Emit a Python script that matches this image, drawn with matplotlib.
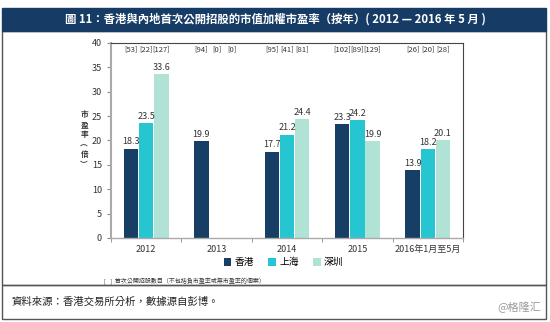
import matplotlib
matplotlib.use('Agg')
import matplotlib.pyplot as plt
from matplotlib.patches import Rectangle
import numpy as np

plt.rcParams['font.family'] = ['Noto Sans CJK TC', 'DejaVu Sans']

# data
categories = ['2012', '2013', '2014', '2015', '2016年1月至5月']
series_names = ['香港', '上海', '深圳']
hk = [18.3, 19.9, 17.7, 23.3, 13.9]
sh = [23.5, None, 21.2, 24.2, 18.2]
sz = [33.6, None, 24.4, 19.9, 20.1]
ipo_counts = [[53, 22, 127], [94, 0, 0], [95, 41, 81], [102, 89, 129], [26, 20, 28]]
colors = ['#173f66', '#25c5d2', '#b0e3d5']
ylabel_chars = ['市', '盈', '率', '︵', '倍', '︶']

fig = plt.figure(figsize=(5.5, 3.22), dpi=100)

# outer frames
fig.patches.append(Rectangle((0.004, 0.115), 0.988, 0.79, transform=fig.transFigure,
                             fill=False, edgecolor='#555555', lw=1.0))
fig.patches.append(Rectangle((0.004, 0.01), 0.988, 0.105, transform=fig.transFigure,
                             fill=False, edgecolor='#555555', lw=1.0))
# title banner
fig.patches.append(Rectangle((0.004, 0.905), 0.988, 0.07, transform=fig.transFigure,
                             facecolor='#163c66', edgecolor='#163c66'))
fig.text(0.5, 0.94, '圖 11：香港與內地首次公開招股的市值加權市盈率（按年）( 2012 — 2016 年 5 月 )',
         color='white', fontsize=8.2, fontweight='bold', ha='center', va='center')

ax = fig.add_axes([0.2018, 0.2609, 0.64, 0.6056])
x = np.arange(len(categories))
w = 0.215
offsets = [-w, 0, w]
for i, vals in enumerate([hk, sh, sz]):
    for j, v in enumerate(vals):
        if v is None:
            continue
        xpos = x[j] + offsets[i]
        ax.bar(xpos, v, width=w * 0.95, color=colors[i], label=series_names[i] if j == 0 else None)
        ax.text(xpos, v + 0.5, f'{v:.1f}', ha='center', va='bottom', fontsize=6.5, color='#333333')
    for j in range(len(categories)):
        ax.text(x[j] + offsets[i], 38.6, f'[{ipo_counts[j][i]}]', ha='center', va='center',
                fontsize=5.5, color='#333333')

ax.set_ylim(0, 40)
ax.set_xlim(-0.5, len(categories) - 0.5)
ax.set_yticks(range(0, 41, 5))
ax.set_xticks(np.arange(len(categories) + 1) - 0.5, minor=True)
ax.set_xticks(x)
ax.set_xticklabels(categories)
ax.tick_params(axis='x', which='major', length=0, labelsize=6.5, labelcolor='#333333', pad=5)
ax.tick_params(axis='x', which='minor', length=3, color='#888888')
ax.tick_params(axis='y', labelsize=6.5, labelcolor='#333333', length=3, color='#888888')
for s in ['top', 'right']:
    ax.spines[s].set_color('#444444')
    ax.spines[s].set_linewidth(0.8)
ax.spines['left'].set_color('#aaaaaa')
ax.spines['left'].set_linewidth(1.5)
ax.spines['bottom'].set_color('#aaaaaa')
ax.spines['bottom'].set_linewidth(1.0)

# vertical stacked y label
for k, ch in enumerate(ylabel_chars):
    fig.text(0.153, 0.645 - k * 0.031, ch, fontsize=5.5, color='#333333',
             ha='center', va='center', fontweight='bold')

ax.legend(loc='center', bbox_to_anchor=(0.49, -0.125), ncol=3, frameon=False,
          fontsize=7, handlelength=0.8, handleheight=0.8, columnspacing=1.5, handletextpad=0.3)

fig.text(0.19, 0.125, '[   ]  首次公開招股數目（不包括負市盈率或無市盈率的個案）', fontsize=4.3,
         color='#333333', va='center')
fig.text(0.02, 0.062, '資料來源：香港交易所分析，數據源自彭博。', fontsize=7.5, color='#222222', va='center')
fig.text(0.985, 0.045, '@格隆汇', fontsize=8, color='#999999', ha='right', va='center')

fig.savefig('out.png', dpi=100)
